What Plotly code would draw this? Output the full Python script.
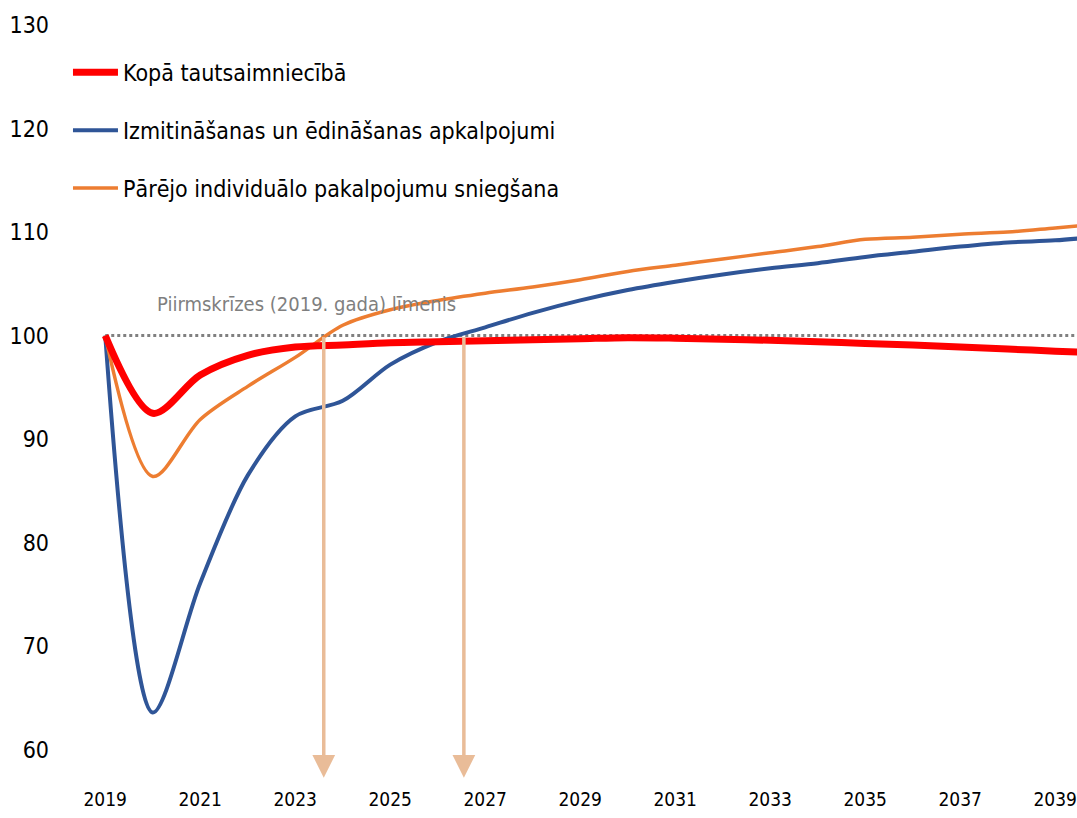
import plotly.graph_objects as go

years = list(range(2019, 2041))

total = [100.0, 92.5, 96.2, 98.1, 98.9, 99.1, 99.3, 99.4, 99.5, 99.6, 99.7, 99.8,
         99.75, 99.65, 99.55, 99.4, 99.25, 99.1, 98.9, 98.7, 98.5, 98.3]
accommodation = [100.0, 63.6, 76.1, 86.5, 92.2, 93.7, 97.2, 99.4, 100.8, 102.2, 103.4, 104.4,
                 105.2, 105.9, 106.5, 107.0, 107.6, 108.1, 108.6, 109.0, 109.2, 109.6]
personal = [100.0, 86.4, 91.9, 95.1, 97.9, 101.0, 102.5, 103.4, 104.1, 104.7, 105.4, 106.2,
            106.8, 107.4, 108.0, 108.6, 109.3, 109.5, 109.8, 110.0, 110.4, 110.8]

names = ["Kopā tautsaimniecībā",
         "Izmitināšanas un ēdināšanas apkalpojumi",
         "Pārējo individuālo pakalpojumu sniegšana"]

baseline_level = 100
baseline_label = "Piirmskrīzes (2019. gada) līmenis"
recovery_years = [2023.6, 2026.55]

x_ticks = list(range(2019, 2040, 2))
y_ticks = list(range(60, 131, 10))

FONT = "DejaVu Sans Condensed, Liberation Sans Narrow, sans-serif"

fig = go.Figure()

# baseline dotted line
fig.add_trace(go.Scatter(
    x=[years[0], years[-1]], y=[baseline_level, baseline_level],
    mode="lines", line=dict(color="#808080", width=3, dash="dot"),
    showlegend=False, hoverinfo="skip"))

draw = [(1, accommodation, "#2F5597", 4), (2, personal, "#ED7D31", 3.5), (0, total, "#FF0000", 7)]
for idx, vals, col, w in draw:
    fig.add_trace(go.Scatter(
        x=years, y=vals, mode="lines", name=names[idx],
        line=dict(color=col, width=w, shape="spline", smoothing=0.9),
        legendrank=idx + 1, legendgroup=f"g{idx}"))

# recovery arrows
for ry in recovery_years:
    fig.add_annotation(
        x=ry, y=57.3, ax=ry, ay=baseline_level, xref="x", yref="y",
        axref="x", ayref="y", text="", showarrow=True,
        arrowhead=2, arrowsize=1.3, arrowwidth=3.5, arrowcolor="#E9BC98")

fig.add_annotation(
    x=2020.05, y=103.1, xref="x", yref="y",
    text=baseline_label, showarrow=False, xanchor="left", yanchor="middle",
    font=dict(family=FONT, size=20, color="#7F7F7F"))

fig.update_layout(
    width=1077, height=818,
    margin=dict(l=72, r=0, t=25, b=32),
    plot_bgcolor="white", paper_bgcolor="white",
    font=dict(family=FONT, color="#000000"),
    legend=dict(x=-0.004, y=0.966, xanchor="left", yanchor="top",
                font=dict(family=FONT, size=23, color="#000000"),
                bgcolor="rgba(0,0,0,0)", tracegroupgap=25,
                itemwidth=45, traceorder="grouped"),
    xaxis=dict(range=[2018.3, 2039.458], tickvals=x_ticks, showgrid=False,
               zeroline=False, showline=False, ticks="", automargin=False,
               tickfont=dict(family=FONT, size=19, color="#000000")),
    yaxis=dict(range=[56.5, 130], tickvals=y_ticks, showgrid=False,
               zeroline=False, showline=False, ticks="", automargin=False,
               ticklabelstandoff=22,
               tickfont=dict(family=FONT, size=23, color="#000000")),
)

fig.write_html(
    "out.html",
    config={"displayModeBar": False},
    post_script="document.body.style.margin='0';document.body.style.overflow='hidden';",
)
